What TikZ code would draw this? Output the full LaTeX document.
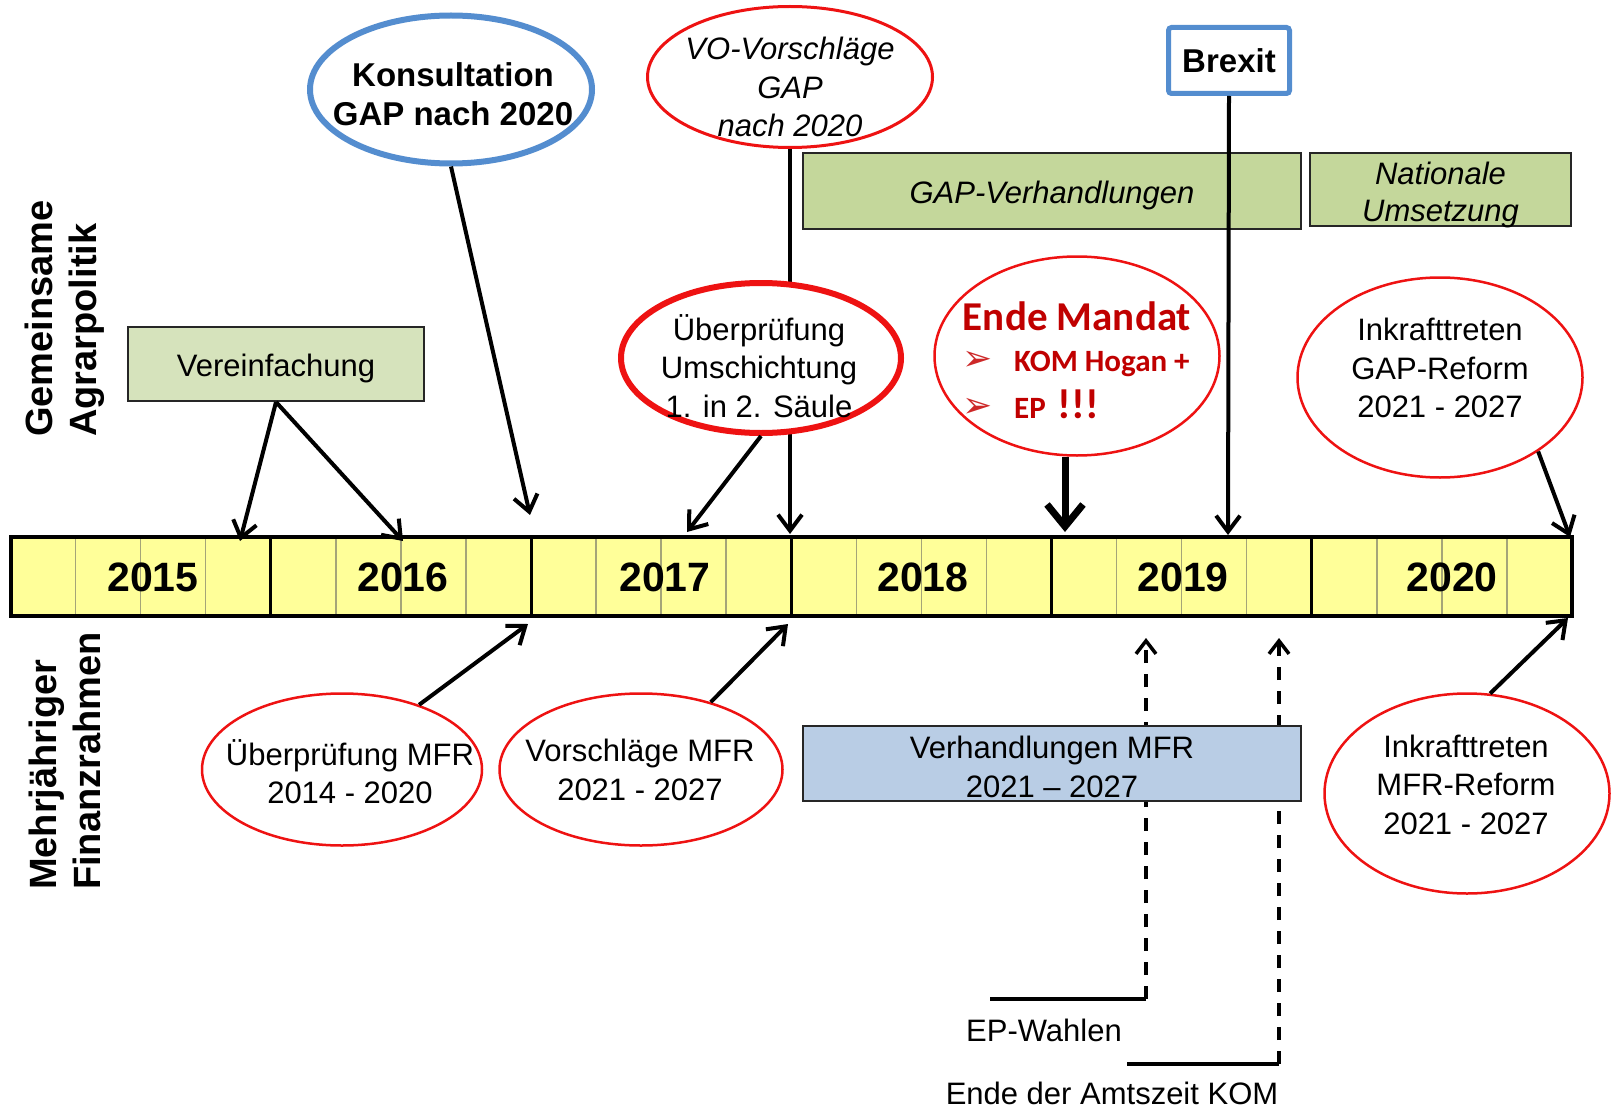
\documentclass[tikz,border=0pt]{standalone}
\usepackage{fontspec}
\setmainfont{Liberation Sans}
\newfontfamily\carlito{Carlito}
\newfontfamily\dejavu{DejaVu Sans}
\usetikzlibrary{shapes.geometric,arrows.meta}
\definecolor{myred}{RGB}{238,18,18}
\definecolor{myblue}{RGB}{84,141,207}
\definecolor{barfill}{RGB}{255,255,153}
\definecolor{qcol}{RGB}{165,165,120}
\definecolor{gapgreen}{RGB}{196,215,155}
\definecolor{vgreen}{RGB}{214,227,188}
\definecolor{mfrblue}{RGB}{185,205,229}
\definecolor{mandat}{RGB}{192,0,0}
\definecolor{bulletred}{RGB}{205,40,40}
\tikzset{
 txt/.style={inner sep=0pt, align=center, font=\fontsize{31}{38.5}\selectfont},
 itxt/.style={inner sep=0pt, align=center, font=\itshape\fontsize{31}{38.5}\selectfont},
 redell/.style={ellipse, draw=myred, line width=2.5, fill=white, inner sep=0pt},
 plainbox/.style={rectangle, draw=black!85, line width=2, inner sep=0pt},
 arr/.style={line width=4, -{Straight Barb[length=16pt,width=24pt]}},
 bigarr/.style={line width=7, -{Straight Barb[length=22pt,width=36pt]}},
 dasharr/.style={line width=3.5, dash pattern=on 13pt off 11pt, -{Straight Barb[length=13pt,width=20pt]}},
 yearlbl/.style={inner sep=0pt, font=\bfseries\fontsize{41}{41}\selectfont},
 sidelbl/.style={rotate=90, anchor=west, align=left, inner sep=0pt, font=\bfseries\fontsize{38}{44}\selectfont},
 mandattxt/.style={inner sep=0pt, text=mandat, font=\carlito\bfseries\fontsize{31}{31}\selectfont},
}
\newcommand{\mybullet}{\makebox[52pt][l]{\textcolor{bulletred}{\dejavu\fontsize{36}{36}\selectfont\raisebox{1pt}{➢}}}}
\begin{document}
\begin{tikzpicture}[x=1pt,y=-1pt]
\useasboundingbox (0,0) rectangle (1614,1110);
% timeline bar
\fill[barfill] (10.5,537) rectangle (1572,616);
\foreach \i in {0,...,5}{\foreach \q in {1,2,3}{\draw[qcol,line width=1.5] ({10.5+260.25*\i+65.06*\q},537) -- ++(0,79);}}
\foreach \i in {1,...,5}{\draw[line width=3] ({10.5+260.25*\i},537) -- ++(0,79);}
\draw[line width=4] (10.5,537) rectangle (1572,616);
\node[yearlbl] (y15) at (153,577) {2015};
\node[yearlbl] (y16) at (403,577) {2016};
\node[yearlbl] (y17) at (665,577) {2017};
\node[yearlbl] (y18) at (923,577) {2018};
\node[yearlbl] (y19) at (1183,577) {2019};
\node[yearlbl] (y20) at (1452,577) {2020};
% arrow end points on the bar
\coordinate (v1e) at (240,541);
\coordinate (v2e) at (403,541);
\coordinate (ke) at (530,515);
\coordinate (ue) at (687,532);
\coordinate (voe) at (790,534);
\coordinate (ee) at (1065,532);
\coordinate (be) at (1228,535);
\coordinate (ige) at (1570,537);
\coordinate (m1e) at (528,624);
\coordinate (m2e) at (788,624);
\coordinate (m3e) at (1568,618);
\coordinate (eps) at (990,999);
\coordinate (epc) at (1146,999);
\coordinate (ept) at (1146,638);
\coordinate (ks) at (1127,1064);
\coordinate (kc) at (1279,1064);
\coordinate (kt) at (1279,638);
% side labels
\node[sidelbl] (gap-lbl) at (65,437) {Gemeinsame\\Agrarpolitik};
\node[sidelbl] (mfr-lbl) at (65,890) {Mehrjähriger\\Finanzrahmen};
% top nodes
\node[ellipse, draw=myblue, line width=6, fill=white, minimum width=282, minimum height=148, inner sep=0pt] (konsul) at (451,89.5) {};
\node[inner sep=0pt, align=center, font=\bfseries\fontsize{33}{39}\selectfont] (konsul-t) at (453,94) {Konsultation\\GAP nach 2020};
\node[redell, line width=3, minimum width=285, minimum height=141] (vo) at (790,77) {};
\node[itxt] (vo-t) at (790,87) {VO-Vorschläge\\GAP\\nach 2020};
\node[rectangle, draw=myblue, line width=5, fill=white, rounded corners=3, minimum width=121, minimum height=66, inner sep=0pt, font=\bfseries\fontsize{33}{33}\selectfont] (brexit) at (1229,60.5) {Brexit};
\node[plainbox, fill=gapgreen, minimum width=498, minimum height=76] (gapv) at (1052,191) {};
\node[itxt] (gapv-t) at (1052,195) {GAP-Verhandlungen};
\node[plainbox, fill=gapgreen, minimum width=261, minimum height=73] (natu) at (1440.5,189.5) {};
\node[itxt, font=\itshape\fontsize{31}{37}\selectfont] (natu-t) at (1440.5,195) {Nationale\\Umsetzung};
\node[plainbox, fill=vgreen, minimum width=296, minimum height=74] (vereinf) at (276,364) {};
\node[txt] (vereinf-t) at (276,368) {Vereinfachung};
% Ende Mandat
\node[redell, minimum width=285, minimum height=199] (ende) at (1077,356) {};
\node[mandattxt, anchor=base, font=\carlito\bfseries\fontsize{41}{41}\selectfont] (ende-t1) at (1077,330) {Ende Mandat};
\node[mandattxt, anchor=base west] (ende-t2) at (962,371) {\mybullet KOM Hogan +};
\node[mandattxt, anchor=base west] (ende-t3) at (962,418) {\mybullet EP\hspace{12pt}{\fontsize{42}{42}\selectfont !!!}};
% Inkrafttreten GAP
\node[redell, minimum width=285, minimum height=200] (inkgap) at (1440,377.5) {};
\node[txt] (inkgap-t) at (1440,368) {Inkrafttreten\\GAP-Reform\\2021 - 2027};
% bottom ellipses
\node[redell, minimum width=280, minimum height=152] (uemfr) at (342,769.5) {};
\node[txt] (uemfr-t) at (350,771.5) {Überprüfung MFR\\2014 - 2020};
\node[redell, minimum width=283, minimum height=152] (vmfr) at (641,769.5) {};
\node[txt] (vmfr-t) at (640,770) {Vorschläge MFR\\2021 - 2027};
\node[redell, minimum width=285, minimum height=200] (imfr) at (1467,793.5) {};
\node[txt] (imfr-t) at (1466,784.5) {Inkrafttreten\\MFR-Reform\\2021 - 2027};
% VO line passes behind the Ueberpruefung ellipse
\draw[arr] (vo.south) -- (voe);
\node[redell, line width=6, minimum width=280, minimum height=150] (ueb) at (761,358) {};
\node[txt] (ueb-t) at (759,366) {Überprüfung\\Umschichtung\\1. in 2. Säule};
% dashed markers behind the MFR box
\draw[line width=4] (eps) -- (epc);
\draw[dasharr] (epc) -- (ept);
\draw[line width=4] (ks) -- (kc);
\draw[dasharr] (kc) -- (kt);
\node[txt] (epw) at (1044,1030) {EP-Wahlen};
\node[txt] (amts) at (1112,1093) {Ende der Amtszeit KOM};
\node[plainbox, fill=mfrblue, minimum width=498, minimum height=75] (mfrbox) at (1052,763.5) {};
\node[txt] (mfrbox-t) at (1052,767) {Verhandlungen MFR\\2021 – 2027};
% connectors
\draw[arr] (vereinf.south) -- (v1e);
\draw[arr] (vereinf.south) -- (v2e);
\draw[arr] (konsul.south) -- (ke);
\draw[arr] (ueb.south) -- (ue);
\draw[bigarr] (ende.south -| ee) -- (ee);
\draw[arr] (brexit.south) -- (be);
\draw[arr] (inkgap.-37) -- (ige);
\draw[arr] (uemfr.40) -- (m1e);
\draw[arr] (vmfr.44) -- (m2e);
\draw[arr] (imfr.77) -- (m3e);
\end{tikzpicture}
\end{document}
